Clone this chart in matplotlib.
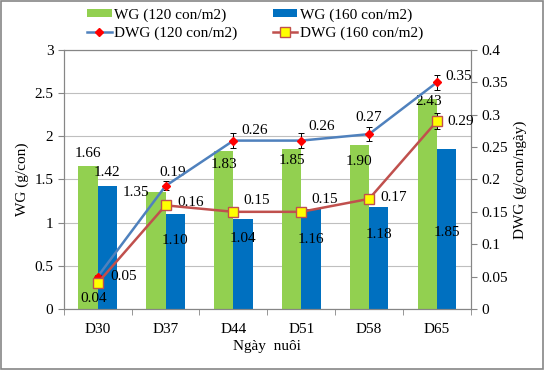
import matplotlib.pyplot as plt
from matplotlib.patches import Rectangle
import numpy as np

plt.rcParams['font.family'] = ['Liberation Serif', 'DejaVu Serif']

# ---- data ----
days = ['D30', 'D37', 'D44', 'D51', 'D58', 'D65']
wg_120 = [1.66, 1.35, 1.83, 1.85, 1.90, 2.43]
wg_160 = [1.42, 1.10, 1.04, 1.16, 1.18, 1.85]
dwg_120 = [0.05, 0.19, 0.26, 0.26, 0.27, 0.35]
dwg_160 = [0.04, 0.16, 0.15, 0.15, 0.17, 0.29]
err_120 = [0.003, 0.007, 0.011, 0.011, 0.011, 0.012]
err_160 = [0.003, 0.005, 0.006, 0.005, 0.006, 0.012]

# label offsets in points (dx, dy) relative to bar top / point
wg120_off = [(0, 9), (-14, 0), (0, -10), (0, -8), (0, -12), (1, -2)]
wg160_off = [(0, 10), (0, -19), (0, -14), (0, -22), (0, -20), (0, -60)]
d120_off = [(19, 0), (5, 10), (15, 7), (15, 10), (0, 12), (16, 4)]
d160_off = [(-3, -11), (18, 2), (17, 8), (17, 9), (18, 1), (17, 0)]

fig = plt.figure(figsize=(5.45, 3.7), dpi=100)
ax = fig.add_axes([0.117, 0.165, 0.747, 0.70])
ax2 = ax.twinx()

x = np.arange(len(days))
w = 0.285
b1 = ax.bar(x - w / 2, wg_120, w, color='#92D050', label='WG (120 con/m2)', zorder=2)
b2 = ax.bar(x + w / 2, wg_160, w, color='#0070C0', label='WG (160 con/m2)', zorder=2)

ax.set_ylim(0, 3)
ax.set_xlim(-0.5, len(days) - 0.5)
ax.set_yticks(np.arange(0, 3.01, 0.5))
ax.set_yticklabels(['0', '0.5', '1', '1.5', '2', '2.5', '3'])
ax.yaxis.grid(True, color='#BFBFBF', linewidth=0.8, zorder=0)
ax.set_axisbelow(True)
ax.set_xticks(x)
ax.set_xticklabels(days)
ax.set_xticks(np.arange(-0.5, len(days), 1), minor=True)
ax.tick_params(axis='x', which='major', length=0, pad=10)
ax.tick_params(axis='x', which='minor', length=4, color='#868686')
ax.tick_params(axis='y', length=4, color='#868686')
ax.set_ylabel('WG (g/con)', fontsize=11)
ax.set_xlabel('Ngày  nuôi', fontsize=11, labelpad=3)

for i in range(len(days)):
    ax.annotate(f'{wg_120[i]:.2f}', (x[i] - w / 2, wg_120[i]), xytext=wg120_off[i],
                textcoords='offset points', ha='center', va='center', fontsize=11, zorder=5)
    ax.annotate(f'{wg_160[i]:.2f}', (x[i] + w / 2, wg_160[i]), xytext=wg160_off[i],
                textcoords='offset points', ha='center', va='center', fontsize=11, zorder=5)

l1 = ax2.errorbar(x, dwg_120, yerr=err_120, color='#4F81BD', linewidth=1.8,
                  marker='D', markersize=4.5, markerfacecolor='#FF0000', markeredgecolor='#FF0000',
                  ecolor='black', elinewidth=0.7, capsize=2.5, capthick=0.7,
                  label='DWG (120 con/m2)', zorder=3)
l2 = ax2.errorbar(x, dwg_160, yerr=err_160, color='#C0504D', linewidth=1.8,
                  marker='s', markersize=7, markerfacecolor='#FFFF00', markeredgecolor='#C0504D',
                  ecolor='black', elinewidth=0.7, capsize=2.5, capthick=0.7,
                  label='DWG (160 con/m2)', zorder=3)
ax2.set_ylim(0, 0.4)
ax2.set_yticks(np.arange(0, 0.401, 0.05))
ax2.set_yticklabels(['0', '0.05', '0.1', '0.15', '0.2', '0.25', '0.3', '0.35', '0.4'])
ax2.tick_params(axis='y', length=4, color='#868686')
ax2.set_ylabel('DWG (g/con/ngày)', fontsize=11)

for i in range(len(days)):
    ax2.annotate(f'{dwg_120[i]:.2f}', (x[i], dwg_120[i]), xytext=d120_off[i],
                 textcoords='offset points', ha='center', va='center', fontsize=11)
    ax2.annotate(f'{dwg_160[i]:.2f}', (x[i], dwg_160[i]), xytext=d160_off[i],
                 textcoords='offset points', ha='center', va='center', fontsize=11)

for a in (ax, ax2):
    for s in a.spines.values():
        s.set_color('#868686')
    a.tick_params(labelsize=11)

handles = [b1, l1.lines[0], b2, l2.lines[0]]
labels = ['WG (120 con/m2)', 'DWG (120 con/m2)', 'WG (160 con/m2)', 'DWG (160 con/m2)']
fig.legend(handles, labels, ncol=2, loc='upper center',
           bbox_to_anchor=(0.468, 1.015), frameon=False, fontsize=11,
           handlelength=1.6, handleheight=0.45, columnspacing=2.35,
           labelspacing=0.3, handletextpad=0.15)

fig.patches.append(Rectangle((0.002, 0.003), 0.995, 0.994, transform=fig.transFigure,
                             fill=False, edgecolor='#868686', linewidth=1.2))

fig.savefig('out.png', dpi=100)
